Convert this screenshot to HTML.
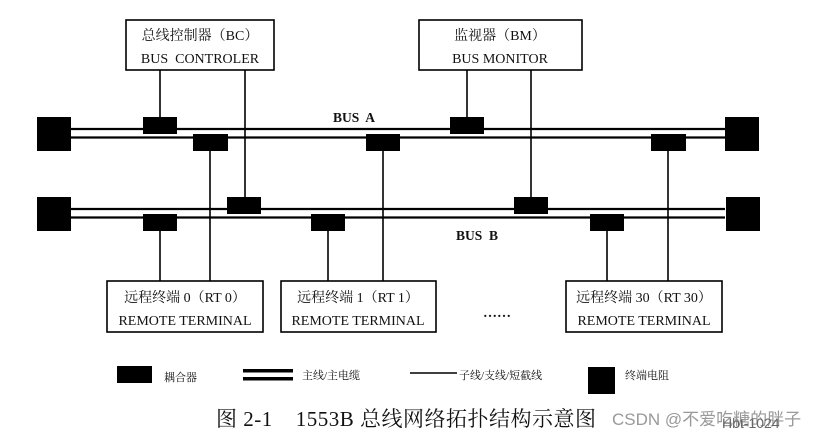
<!DOCTYPE html>
<html><head><meta charset="utf-8"><style>
html,body{margin:0;padding:0;background:#fff;}
svg{display:block;}
text{white-space:pre;}
.s{font-family:"Liberation Serif","Noto Serif CJK SC",serif;fill:#111;}
</style></head><body>
<svg width="832" height="439" viewBox="0 0 832 439" xmlns="http://www.w3.org/2000/svg" xml:space="preserve">
<g stroke="#000" stroke-width="2.2" fill="none">
<line x1="71" y1="129" x2="725" y2="129"/>
<line x1="71" y1="137.5" x2="725" y2="137.5"/>
<line x1="71" y1="209" x2="725" y2="209"/>
<line x1="71" y1="217.5" x2="725" y2="217.5"/>
</g>
<g stroke="#000" stroke-width="1.6" fill="none">
<line x1="160" y1="70" x2="160" y2="117"/>
<line x1="245" y1="70" x2="245" y2="197"/>
<line x1="467" y1="70" x2="467" y2="117"/>
<line x1="531" y1="70" x2="531" y2="197"/>
<line x1="160" y1="231" x2="160" y2="282"/>
<line x1="210" y1="151" x2="210" y2="282"/>
<line x1="328" y1="231" x2="328" y2="282"/>
<line x1="383" y1="151" x2="383" y2="282"/>
<line x1="607" y1="231" x2="607" y2="282"/>
<line x1="668" y1="151" x2="668" y2="282"/>
<line x1="410" y1="373" x2="457" y2="373"/>
</g>
<g stroke="#000" stroke-width="1.6" fill="#fff">
<rect x="126" y="20" width="148" height="50"/>
<rect x="419" y="20" width="163" height="50"/>
<rect x="107" y="281" width="156" height="51"/>
<rect x="281" y="281" width="155" height="51"/>
<rect x="566" y="281" width="156" height="51"/>
</g>
<g fill="#000">
<rect x="37" y="117" width="34" height="34"/>
<rect x="37" y="197" width="34" height="34"/>
<rect x="725" y="117" width="34" height="34"/>
<rect x="726" y="197" width="34" height="34"/>
<rect x="143" y="117" width="34" height="17"/>
<rect x="193" y="134" width="35" height="17"/>
<rect x="366" y="134" width="34" height="17"/>
<rect x="450" y="117" width="34" height="17"/>
<rect x="651" y="134" width="35" height="17"/>
<rect x="227" y="197" width="34" height="17"/>
<rect x="514" y="197" width="34" height="17"/>
<rect x="143" y="214" width="34" height="17"/>
<rect x="311" y="214" width="34" height="17"/>
<rect x="590" y="214" width="34" height="17"/>
<rect x="117" y="366" width="35" height="17"/>
<rect x="243" y="369" width="50" height="3.5"/>
<rect x="243" y="377" width="50" height="3.5"/>
<rect x="588" y="367" width="27" height="27"/>
</g>
<g class="s" font-size="14" text-anchor="middle">
<text x="200" y="40">总线控制器（BC）</text>
<text x="200" y="63">BUS  CONTROLER</text>
<text x="500" y="40">监视器（BM）</text>
<text x="500" y="63">BUS MONITOR</text>
<text x="185" y="302">远程终端 0（RT 0）</text>
<text x="185" y="325">REMOTE TERMINAL</text>
<text x="358" y="302">远程终端 1（RT 1）</text>
<text x="358" y="325">REMOTE TERMINAL</text>
<text x="644" y="302">远程终端 30（RT 30）</text>
<text x="644" y="325">REMOTE TERMINAL</text>
<text x="354" y="122" font-weight="bold" font-size="13.5">BUS  A</text>
<text x="477" y="240" font-weight="bold" font-size="13.5">BUS  B</text>
<text x="497" y="317" font-weight="bold" font-size="14">……</text>
</g>
<g class="s" font-size="11">
<text x="164" y="381">耦合器</text>
<text x="302" y="379">主线/主电缆</text>
<text x="459" y="379">子线/支线/短截线</text>
<text x="625" y="379">终端电阻</text>
</g>
<text class="s" x="216" y="426" font-size="21" letter-spacing="0.5">图 2-1    1553B 总线网络拓扑结构示意图</text>
<text x="612" y="425" font-size="17" fill="#999" font-family="'Liberation Sans','Noto Sans CJK SC',sans-serif">CSDN @不爱吃糖的胖子</text>
<text x="722" y="428" font-size="14" fill="#666" font-family="'Liberation Sans',sans-serif">Hbt-1024</text>
</svg>
</body></html>
